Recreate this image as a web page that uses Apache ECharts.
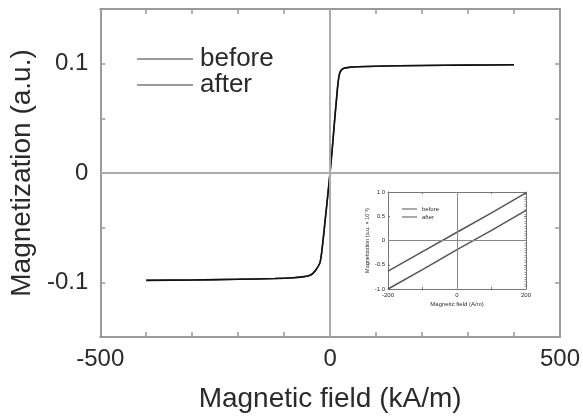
<!DOCTYPE html>
<html>
<head>
<meta charset="utf-8">
<script src="https://cdn.jsdelivr.net/npm/echarts@6/dist/echarts.min.js"></script>
<style>
  html, body { margin: 0; padding: 0; background: #fff; }
  #chart { width: 583px; height: 419px; }
</style>
</head>
<body>
<div id="chart"></div>
<script>
// main loop, field in kA/m
var field = [-400, -300, -200, -120, -80, -60, -45, -38, -30, -22, -16, -10, -5, 0, 5, 10, 14, 17, 20, 24, 30, 40, 60, 100, 200, 300, 400];
var before = [-0.0982, -0.0978, -0.0972, -0.0965, -0.0958, -0.0950, -0.0938, -0.0920, -0.0880, -0.0820, -0.0640, -0.0400, -0.0200, 0.0010, 0.0240, 0.0490, 0.0680, 0.0815, 0.0900, 0.0940, 0.0958, 0.0966, 0.0972, 0.0977, 0.0983, 0.0987, 0.0990];
var after = [-0.0982, -0.0978, -0.0972, -0.0965, -0.0958, -0.0950, -0.0938, -0.0920, -0.0880, -0.0820, -0.0640, -0.0400, -0.0200, 0.0010, 0.0240, 0.0490, 0.0680, 0.0815, 0.0900, 0.0940, 0.0958, 0.0966, 0.0972, 0.0977, 0.0983, 0.0987, 0.0990];

// inset, field in A/m, magnetization x 10^-3
var insetField = [-200, -100, 0, 100, 200];
var insetBefore = [-0.63, -0.23, 0.17, 0.57, 0.98];
var insetAfter = [-1.0, -0.60, -0.19, 0.21, 0.62];

var xLabels = [-500, 0, 500];
var yLabels = [-0.1, 0, 0.1];
var insetXLabels = [-200, 0, 200];

function pairs(xs, ys) {
    return xs.map(function (x, i) { return [x, ys[i]]; });
}

var font = 'Liberation Sans, Arial, sans-serif';
var axisCol = '#9a9a9a';
var txtCol = '#2a2a2a';

function mainAxisLine() { return { show: true, onZero: false, lineStyle: { color: axisCol, width: 2 } }; }
function insetAxisLine() { return { show: true, onZero: false, lineStyle: { color: '#777', width: 1 } }; }

var myChart = echarts.init(document.getElementById('chart'));
var option = {
    animation: false,
    backgroundColor: '#fff',
    textStyle: { fontFamily: font },
    grid: [
        { left: 100, right: 23, top: 9, bottom: 82 },
        { left: 388, width: 138, top: 192, height: 97, show: true, backgroundColor: '#fff', borderWidth: 0 }
    ],
    legend: [
        {
            orient: 'vertical', left: 132, top: 41,
            icon: 'rect', itemWidth: 56, itemHeight: 1.5, itemGap: 0,
            textStyle: { fontSize: 26, color: txtCol, fontFamily: font, padding: [0, 0, 0, 2] },
            data: [
                { name: 'before', itemStyle: { color: '#777' } },
                { name: 'after', itemStyle: { color: '#777' } }
            ]
        },
        {
            orient: 'vertical', left: 397, top: 201,
            icon: 'rect', itemWidth: 15, itemHeight: 1, itemGap: 2,
            textStyle: { fontSize: 6, color: txtCol, fontFamily: font },
            data: [
                { name: 'before', itemStyle: { color: '#555' } },
                { name: 'after', itemStyle: { color: '#555' } }
            ]
        }
    ],
    xAxis: [
        {
            type: 'value', gridIndex: 0, min: -500, max: 500, interval: 100,
            axisLine: mainAxisLine(), splitLine: { show: false },
            axisTick: { inside: true, length: 5, lineStyle: { color: axisCol, width: 1.5 } },
            axisLabel: {
                fontSize: 24, color: txtCol, margin: 10,
                formatter: function (v) { return xLabels.indexOf(v) >= 0 ? String(v) : ''; }
            },
            name: 'Magnetic field (kA/m)', nameLocation: 'middle', nameGap: 48,
            nameTextStyle: { fontSize: 28, color: txtCol }
        },
        {
            type: 'value', gridIndex: 0, position: 'top', min: -500, max: 500, interval: 100,
            axisLine: mainAxisLine(), splitLine: { show: false },
            axisTick: { inside: true, length: 5, lineStyle: { color: axisCol, width: 1.5 } },
            axisLabel: { show: false }
        },
        {
            type: 'value', gridIndex: 1, min: -200, max: 200, interval: 100,
            axisLine: insetAxisLine(), splitLine: { show: false },
            axisTick: { inside: true, length: 2, lineStyle: { color: '#777' } },
            axisLabel: {
                fontSize: 6, color: txtCol, margin: 3,
                formatter: function (v) { return insetXLabels.indexOf(v) >= 0 ? String(v) : ''; }
            },
            name: 'Magnetic field (A/m)', nameLocation: 'middle', nameGap: 12,
            nameTextStyle: { fontSize: 6, color: txtCol }
        },
        {
            type: 'value', gridIndex: 1, position: 'top', min: -200, max: 200, interval: 100,
            axisLine: insetAxisLine(), splitLine: { show: false },
            axisTick: { inside: true, length: 2, lineStyle: { color: '#777' } },
            axisLabel: { show: false }
        }
    ],
    yAxis: [
        {
            type: 'value', gridIndex: 0, min: -0.15, max: 0.15, interval: 0.05,
            axisLine: mainAxisLine(), splitLine: { show: false },
            axisTick: { inside: true, length: 5, lineStyle: { color: axisCol, width: 1.5 } },
            axisLabel: {
                fontSize: 24, color: txtCol, margin: 12,
                formatter: function (v) {
                    var r = Math.round(v * 100) / 100;
                    return yLabels.indexOf(r) >= 0 ? String(r) : '';
                }
            },
            name: 'Magnetization (a.u.)', nameLocation: 'middle', nameGap: 62,
            nameTextStyle: { fontSize: 28, color: txtCol }
        },
        {
            type: 'value', gridIndex: 0, position: 'right', min: -0.15, max: 0.15, interval: 0.05,
            axisLine: mainAxisLine(), splitLine: { show: false },
            axisTick: { inside: true, length: 5, lineStyle: { color: axisCol, width: 1.5 } },
            axisLabel: { show: false }
        },
        {
            type: 'value', gridIndex: 1, min: -1, max: 1, interval: 0.5,
            axisLine: insetAxisLine(), splitLine: { show: false },
            axisTick: { inside: true, length: 2, lineStyle: { color: '#777' } },
            axisLabel: {
                fontSize: 6, color: txtCol, margin: 3,
                formatter: function (v) { return v === 0 ? '0' : v.toFixed(1); }
            },
            name: 'Magnetization (a.u. \u00d7 10\u207b\u00b3)', nameLocation: 'middle', nameGap: 16,
            nameTextStyle: { fontSize: 5.5, color: txtCol }
        },
        {
            type: 'value', gridIndex: 1, position: 'right', min: -1, max: 1, interval: 0.5,
            axisLine: insetAxisLine(), splitLine: { show: false },
            axisTick: { inside: true, length: 2, lineStyle: { color: '#777' } },
            minorTick: { show: true, splitNumber: 10, length: 1.5, lineStyle: { color: '#999' } },
            axisLabel: { show: false }
        }
    ],
    series: [
        {
            name: 'before', type: 'line', xAxisIndex: 0, yAxisIndex: 0,
            data: pairs(field, before), showSymbol: false, smooth: 0.3,
            lineStyle: { color: '#444', width: 1.5 },
            markLine: {
                silent: true, symbol: 'none', label: { show: false },
                lineStyle: { color: '#aaa', width: 2, type: 'solid' },
                data: [{ xAxis: 0 }, { yAxis: 0 }]
            },
            z: 3
        },
        {
            name: 'after', type: 'line', xAxisIndex: 0, yAxisIndex: 0,
            data: pairs(field, after), showSymbol: false, smooth: 0.3,
            lineStyle: { color: '#111', width: 1.6 },
            z: 4
        },
        {
            name: 'before', type: 'line', xAxisIndex: 2, yAxisIndex: 2,
            data: pairs(insetField, insetBefore), showSymbol: false,
            lineStyle: { color: '#555', width: 1.5 },
            markLine: {
                silent: true, symbol: 'none', label: { show: false },
                lineStyle: { color: '#888', width: 1, type: 'solid' },
                data: [{ xAxis: 0 }, { yAxis: 0 }]
            },
            z: 3
        },
        {
            name: 'after', type: 'line', xAxisIndex: 2, yAxisIndex: 2,
            data: pairs(insetField, insetAfter), showSymbol: false,
            lineStyle: { color: '#555', width: 1.5 },
            z: 3
        }
    ]
};
myChart.setOption(option);
</script>
</body>
</html>
